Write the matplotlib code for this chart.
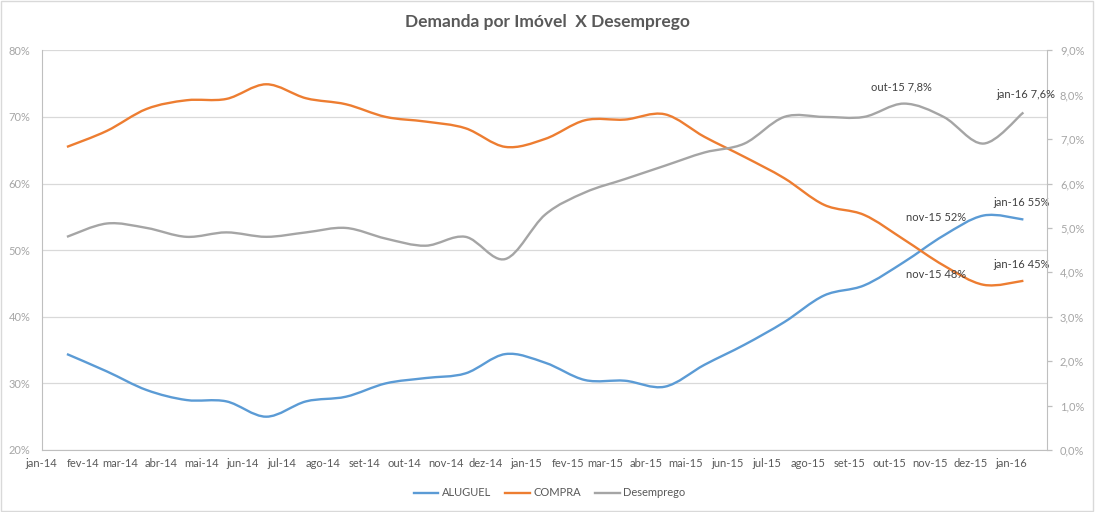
import matplotlib
matplotlib.use('Agg')
import matplotlib.pyplot as plt
from matplotlib.path import Path
from matplotlib.patches import PathPatch, Rectangle
from matplotlib.lines import Line2D
from matplotlib.ticker import FuncFormatter, MultipleLocator
import matplotlib.dates as mdates
import numpy as np
import pandas as pd

plt.rcParams['font.family'] = ['Lato', 'DejaVu Sans']

# one reading every 30 days starting 20 jan 2014
dates = pd.date_range('2014-01-20', periods=25, freq='30D')
tick_dates = pd.date_range('2014-01-01', '2016-01-01', freq='MS')
tick_labels = ['jan-14', 'fev-14', 'mar-14', 'abr-14', 'mai-14', 'jun-14', 'jul-14',
               'ago-14', 'set-14', 'out-14', 'nov-14', 'dez-14', 'jan-15', 'fev-15',
               'mar-15', 'abr-15', 'mai-15', 'jun-15', 'jul-15', 'ago-15', 'set-15',
               'out-15', 'nov-15', 'dez-15', 'jan-16']

aluguel = [34.4, 31.8, 29.0, 27.5, 27.3, 25.0, 27.3, 28.0, 30.0, 30.8, 31.5, 34.4, 33.1,
           30.5, 30.4, 29.5, 32.8, 35.8, 39.2, 43.2, 44.7, 48.2, 52.2, 55.2, 54.6]
compra = [65.5, 67.9, 71.2, 72.5, 72.7, 74.9, 72.8, 71.9, 70.0, 69.3, 68.3, 65.5, 66.7,
          69.5, 69.6, 70.4, 67.0, 64.0, 60.8, 56.8, 55.3, 51.6, 47.7, 44.8, 45.4]
desemprego = [4.8, 5.1, 5.0, 4.8, 4.9, 4.8, 4.9, 5.0, 4.76, 4.6, 4.8, 4.3, 5.3,
              5.8, 6.1, 6.4, 6.7, 6.9, 7.5, 7.5, 7.5, 7.8, 7.5, 6.9, 7.6]

BLUE = '#5B9BD5'
ORANGE = '#ED7D31'
GRAY = '#A5A5A5'
TXT = '#595959'
AXTXT = '#A6A6A6'


def smooth_path(x, y):
    # excel-like smoothed line: cubic bezier through every point
    pts = np.column_stack([x, y])
    ext = np.vstack([pts[0], pts, pts[-1]])
    verts = [pts[0]]
    codes = [Path.MOVETO]
    for i in range(len(pts) - 1):
        p0, p1, p2, p3 = ext[i], ext[i + 1], ext[i + 2], ext[i + 3]
        verts += [p1 + (p2 - p0) / 6, p2 - (p3 - p1) / 6, p2]
        codes += [Path.CURVE4] * 3
    return Path(verts, codes)


def main():
    fig = plt.figure(figsize=(10.95, 5.12), dpi=100)
    ax = fig.add_axes([41.7 / 1095, 1 - 450 / 512, (1047.3 - 41.7) / 1095, (450 - 50.3) / 512])
    ax2 = ax.twinx()

    xs = mdates.date2num(dates)

    ax.add_patch(PathPatch(smooth_path(xs, aluguel), fill=False, edgecolor=BLUE, lw=1.7, zorder=3))
    ax.add_patch(PathPatch(smooth_path(xs, compra), fill=False, edgecolor=ORANGE, lw=1.7, zorder=3))
    ax2.add_patch(PathPatch(smooth_path(xs, desemprego), fill=False, edgecolor=GRAY, lw=1.7, zorder=3))

    ax.set_xlim(mdates.date2num(pd.Timestamp('2014-01-01')), mdates.date2num(pd.Timestamp('2016-01-28')))
    ax.set_ylim(20, 80)
    ax2.set_ylim(0, 9)

    ax.set_xticks(mdates.date2num(tick_dates))
    ax.set_xticklabels(tick_labels)
    ax.yaxis.set_major_locator(MultipleLocator(10))
    ax.yaxis.set_major_formatter(FuncFormatter(lambda v, p: f'{v:.0f}%'))
    ax2.yaxis.set_major_locator(MultipleLocator(1))
    ax2.yaxis.set_major_formatter(FuncFormatter(lambda v, p: f'{v:.1f}%'.replace('.', ',')))

    ax.grid(axis='y', color='#D9D9D9', lw=0.9)
    ax.set_axisbelow(True)
    ax.tick_params(axis='x', length=0, pad=6, labelsize=8, labelcolor=TXT)
    ax.tick_params(axis='y', length=0, pad=8, labelsize=8, labelcolor=AXTXT)
    ax2.tick_params(axis='y', length=3.6, width=0.9, color='#BFBFBF', pad=5.5,
                    labelsize=8, labelcolor=AXTXT, direction='out')

    for a in (ax, ax2):
        a.spines['top'].set_visible(False)
        a.spines['left'].set_color('#BFBFBF')
        a.spines['bottom'].set_color('#BFBFBF')
        a.spines['right'].set_color('#BFBFBF')
    ax.spines['right'].set_visible(False)
    ax2.spines['left'].set_visible(False)
    ax2.spines['bottom'].set_visible(False)

    # data labels
    def label(a, series, i, dx, dy):
        v = series[i]
        txt = f'{v:.0f}%' if a is ax else f'{v:.1f}%'.replace('.', ',')
        a.annotate(f'{tick_labels[i]} {txt}', (xs[i], v), xytext=(dx, dy),
                   textcoords='offset points', ha='center', va='center',
                   fontsize=8, color='#404040', zorder=5)

    label(ax2, desemprego, 21, -2, 12.2)
    label(ax2, desemprego, 24, 2, 12.7)
    label(ax, aluguel, 24, -1.5, 12.2)
    label(ax, aluguel, 22, -5.4, 12.7)
    label(ax, compra, 24, -1.5, 12)
    label(ax, compra, 22, -5.4, -6.7)

    fig.text(0.5, 1 - 22 / 512, 'Demanda por Imóvel  X Desemprego', ha='center', va='center',
             fontsize=12.5, fontweight='bold', color=TXT)

    handles = [Line2D([], [], color=c, lw=1.7) for c in (BLUE, ORANGE, GRAY)]
    fig.legend(handles, ['ALUGUEL', 'COMPRA', 'Desemprego'], loc='center',
               bbox_to_anchor=(0.502, 1 - 493 / 512), ncol=3, frameon=False, fontsize=8,
               handlelength=2.2, handletextpad=0.3, columnspacing=1.3, labelcolor=TXT)

    fig.patches.append(Rectangle((0.0005, 0.001), 0.998, 0.997, transform=fig.transFigure,
                                 fill=False, edgecolor='#D9D9D9', lw=1))

    fig.savefig('out.png', dpi=100, facecolor='white')


if __name__ == '__main__':
    main()
